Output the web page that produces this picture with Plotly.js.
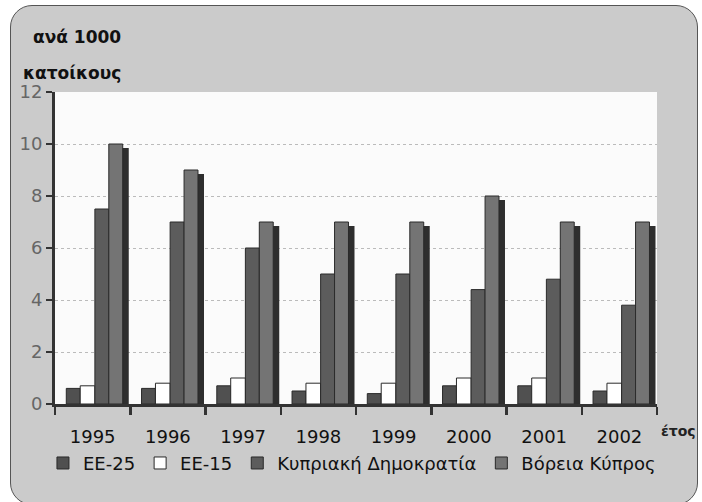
<!DOCTYPE html>
<html>
<head>
<meta charset="utf-8">
<script src="https://cdn.plot.ly/plotly-3.0.1.min.js"></script>
<style>
  html, body { margin: 0; padding: 0; background: #ffffff; }
  #wrap { position: relative; width: 702px; height: 502px; overflow: hidden; }
  #panel { position: absolute; left: 10px; top: 5px; width: 688px; height: 500px;
           background: #cbcbcb; border: 1.5px solid #555; border-radius: 22px; box-sizing: border-box; }
  #chart { position: absolute; left: 0; top: 0; width: 702px; height: 502px; }
</style>
</head>
<body>
<div id="wrap"><div id="panel"></div><div id="chart"></div></div>
<script>
const years = ['1995', '1996', '1997', '1998', '1999', '2000', '2001', '2002'];
const eu25 = [0.6, 0.6, 0.7, 0.5, 0.4, 0.7, 0.7, 0.5];
const eu15 = [0.7, 0.8, 1.0, 0.8, 0.8, 1.0, 1.0, 0.8];
const cyprusRep = [7.5, 7.0, 6.0, 5.0, 5.0, 4.4, 4.8, 3.8];
const northCyprus = [10.0, 9.0, 7.0, 7.0, 7.0, 8.0, 7.0, 7.0];
const seriesNames = ['ΕΕ-25', 'ΕΕ-15', 'Κυπριακή Δημοκρατία', 'Βόρεια Κύπρος'];
const yTicks = [0, 2, 4, 6, 8, 10, 12];

const FONT = 'DejaVu Sans, sans-serif';
const outline = { color: '#2a2a2a', width: 1 };

const traces = [
  { type: 'bar', name: seriesNames[0], x: years, y: eu25, offset: -0.35, width: 0.185,
    marker: { color: '#505050', line: outline } },
  { type: 'bar', name: seriesNames[1], x: years, y: eu15, offset: -0.165, width: 0.195,
    marker: { color: '#ffffff', line: outline } },
  { type: 'bar', name: seriesNames[2], x: years, y: cyprusRep, offset: 0.03, width: 0.185,
    marker: { color: '#5c5c5c', line: outline } },
  { type: 'bar', name: seriesNames[3] + ' shadow', showlegend: false, hoverinfo: 'skip',
    x: years, y: northCyprus, base: -0.15, offset: 0.3, width: 0.18,
    marker: { color: '#2e2e2e', line: { color: '#2e2e2e', width: 0 } } },
  { type: 'bar', name: seriesNames[3], x: years, y: northCyprus, offset: 0.215, width: 0.185,
    marker: { color: '#747474', line: outline } }
];

const layout = {
  width: 702, height: 502,
  margin: { l: 55, r: 45, t: 92, b: 98 },
  paper_bgcolor: 'rgba(0,0,0,0)',
  plot_bgcolor: '#fbfbfb',
  barmode: 'overlay',
  font: { family: FONT, color: '#111' },
  xaxis: {
    type: 'category',
    tickson: 'boundaries',
    ticks: 'outside', ticklen: 8, tickwidth: 2.5, tickcolor: '#333',
    showline: true, linecolor: '#333', linewidth: 3,
    showgrid: false,
    ticklabelstandoff: 14,
    tickfont: { size: 18, family: FONT, color: '#111' },
    range: [-0.5, 7.5]
  },
  yaxis: {
    range: [0, 12],
    tickvals: yTicks,
    ticktext: yTicks.map(String),
    ticks: 'outside', ticklen: 6, tickwidth: 2.5, tickcolor: '#333',
    showline: true, linecolor: '#333', linewidth: 3,
    showgrid: true, gridcolor: '#bbbbbb', griddash: 'dot', gridwidth: 1,
    zeroline: false,
    tickfont: { size: 18, family: FONT, color: '#666' }
  },
  legend: {
    orientation: 'h', x: -0.02, xanchor: 'left', y: -0.19, yanchor: 'middle',
    font: { size: 18, family: FONT, color: '#111' },
    bgcolor: 'rgba(0,0,0,0)', itemwidth: 30, tracegroupgap: 0
  },
  annotations: [
    { xref: 'paper', yref: 'paper', x: -0.04, y: 1.175, xanchor: 'left', yanchor: 'middle',
      text: '<b>ανά 1000</b>', showarrow: false, font: { size: 17, family: FONT, color: '#111' } },
    { xref: 'paper', yref: 'paper', x: -0.057, y: 1.06, xanchor: 'left', yanchor: 'middle',
      text: '<b>κατοίκους</b>', showarrow: false, font: { size: 17, family: FONT, color: '#111' } },
    { xref: 'paper', yref: 'paper', x: 1.004, y: -0.085, xanchor: 'left', yanchor: 'middle',
      text: '<b>έτος</b>', showarrow: false, font: { size: 14, family: FONT, color: '#222' } }
  ]
};

Plotly.newPlot('chart', traces, layout, { displayModeBar: false, staticPlot: true });
</script>
</body>
</html>
